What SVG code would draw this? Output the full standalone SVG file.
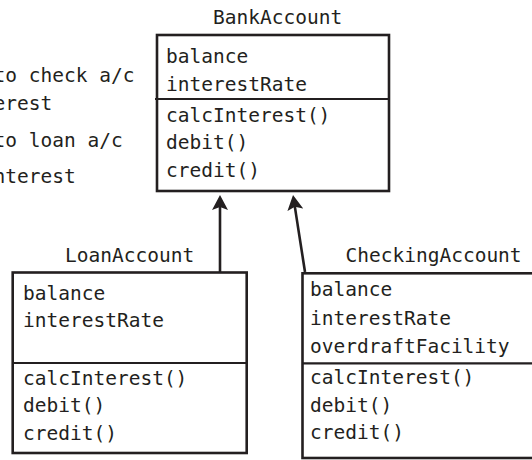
<svg xmlns="http://www.w3.org/2000/svg" width="532" height="460" viewBox="0 0 532 460">
  <style>
    text { font-family: "DejaVu Sans Mono", "Liberation Mono", monospace; font-size: 19.5px; fill: #231f20; }
    .box { fill: #ffffff; stroke: #231f20; stroke-width: 2.6; }
    .div { stroke: #231f20; stroke-width: 2.2; fill: none; }
    .conn { stroke: #231f20; stroke-width: 2.6; fill: none; }
  </style>
  <defs>
    <marker id="arrow" viewBox="0 0 16 16" refX="6" refY="8" markerWidth="16" markerHeight="16" markerUnits="userSpaceOnUse" orient="auto">
      <path d="M0,0 L15,8 L0,16 L3,8 z" fill="#231f20"/>
    </marker>
  </defs>
  <rect width="532" height="460" fill="#ffffff"/>

  <g id="note">
    <text x="-6.5" y="81.5">to check a/c</text>
    <text x="-6.5" y="110">erest</text>
    <text x="-6.5" y="146.7">to loan a/c</text>
    <text x="-6.5" y="183.3">nterest</text>
  </g>

  <g id="BankAccount">
    <text x="213" y="24">BankAccount</text>
    <rect class="box" x="157" y="35" width="232" height="156"/>
    <line class="div" x1="155" y1="99" x2="389" y2="99"/>
    <text x="166" y="62.5">balance</text>
    <text x="166" y="90.5">interestRate</text>
    <text x="166" y="121.5">calcInterest()</text>
    <text x="166" y="149">debit()</text>
    <text x="166" y="177">credit()</text>
  </g>

  <g id="LoanAccount">
    <text x="65" y="261.5">LoanAccount</text>
    <rect class="box" x="12.7" y="272.5" width="234" height="180.5"/>
    <line class="div" x1="12.7" y1="363" x2="246.7" y2="363"/>
    <text x="23" y="300">balance</text>
    <text x="23" y="327">interestRate</text>
    <text x="23" y="385">calcInterest()</text>
    <text x="23" y="412">debit()</text>
    <text x="23" y="439.5">credit()</text>
  </g>

  <g id="CheckingAccount">
    <text x="345.5" y="261.5">CheckingAccount</text>
    <rect class="box" x="302.5" y="273.3" width="240" height="184.7"/>
    <line class="div" x1="302.5" y1="363.3" x2="542" y2="363.3"/>
    <text x="310" y="296">balance</text>
    <text x="310" y="325">interestRate</text>
    <text x="310" y="353.3">overdraftFacility</text>
    <text x="310" y="384.3">calcInterest()</text>
    <text x="310" y="411.7">debit()</text>
    <text x="310" y="439">credit()</text>
  </g>

  <g id="connectors">
    <line class="conn" x1="220" y1="272" x2="220" y2="204" marker-end="url(#arrow)"/>
    <line class="conn" x1="305" y1="272" x2="294.4" y2="203.9" marker-end="url(#arrow)"/>
  </g>
</svg>
